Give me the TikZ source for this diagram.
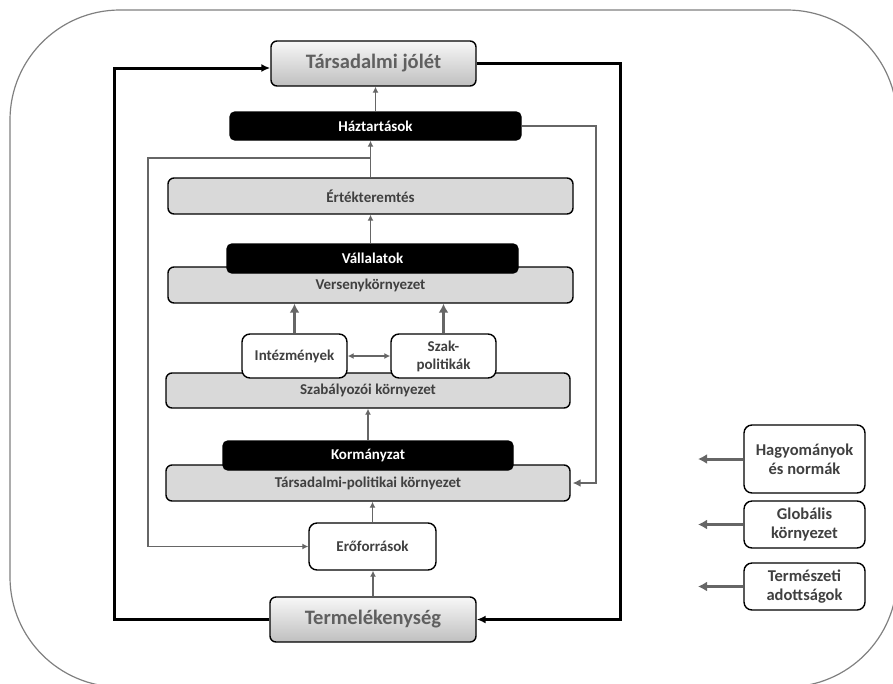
\documentclass[tikz,border=0pt]{standalone}
\usepackage{fontspec}
\setmainfont{Carlito}
\usetikzlibrary{arrows.meta}

\definecolor{txtgrey}{HTML}{404040}
\definecolor{boxgrey}{HTML}{D9D9D9}
\definecolor{arrgrey}{HTML}{666666}

\begin{document}
\begin{tikzpicture}[x=1pt,y=-1pt,
	base/.style={draw=black,line width=1.4pt,rounded corners=6pt,inner sep=0pt,align=center,
		font=\bfseries\fontsize{15}{18}\selectfont,text=txtgrey},
	greybox/.style={base,fill=boxgrey},
	blackbox/.style={base,fill=black,text=white,rounded corners=5pt},
	whitebox/.style={base,fill=white,rounded corners=8pt},
	bigbox/.style={base,top color=gray!6,bottom color=gray!50,text=gray!75!black,
		font=\bfseries\fontsize{20.5}{24}\selectfont},
	sidebox/.style={whitebox,font=\bfseries\fontsize{16.5}{19}\selectfont,minimum width=121pt},
	garr/.style={-{Latex[length=6pt,width=6pt]},line width=1.5pt,draw=arrgrey},
	thickarr/.style={-{Latex[length=9pt,width=10pt]},line width=3pt,draw=arrgrey},
	barr/.style={-{Latex[length=9pt,width=8pt]},line width=3pt,draw=black}]

		\useasboundingbox (0,0) rectangle (893,683);
		\clip (0,0) rectangle (893,683);
		\draw [gray,line width=1.2pt,rounded corners=110pt] (10,10) rectangle (897,687);

		\coordinate (fb) at (148,158);
		\coordinate (fr) at (596,126);
		\coordinate (bl) at (114,68);
		\coordinate (br) at (620,62);
		\coordinate (ext) at (698,0);

		\node [bigbox,minimum width=205pt,minimum height=45pt] (jolet) at (373.5,63.5) {Társadalmi jólét};
		\node [bigbox,minimum width=206pt,minimum height=45pt] (term) at (373,619.5) {Termelékenység};

		\node [greybox,minimum width=405pt,minimum height=36pt] (ertek) at (370.5,196) {Értékteremtés};
		\node [greybox,minimum width=405pt,minimum height=36pt] (verseny) at (370.5,285) {Versenykörnyezet};
		\node [greybox,minimum width=404pt,minimum height=35pt] (szab) at (368,390.5) {Szabályozói környezet};
		\node [greybox,minimum width=404pt,minimum height=36pt] (tarspol) at (368,483) {Társadalmi-politikai környezet};

		\node [blackbox,minimum width=291pt,minimum height=28pt] (haz) at (375.5,126) {Háztartások};
		\node [blackbox,minimum width=291pt,minimum height=29pt] (vall) at (372.5,258.5) {Vállalatok};
		\node [blackbox,minimum width=290pt,minimum height=29pt] (korm) at (368,455.5) {Kormányzat};

		\node [whitebox,minimum width=105pt,minimum height=44pt] (intez) at (294.5,356) {Intézmények};
		\node [whitebox,minimum width=105pt,minimum height=44pt] (szak) at (443.5,356) {Szak-\\politikák};
		\node [whitebox,minimum width=127pt,minimum height=47pt] (ero) at (372.5,546.5) {Erőforrások};

		\node [sidebox,minimum height=68pt] (hagy) at (804.5,459) {Hagyományok\\és normák};
		\node [sidebox,minimum height=47pt] (glob) at (804.5,524.5) {Globális\\környezet};
		\node [sidebox,minimum height=47pt] (termesz) at (804.5,586.5) {Természeti\\adottságok};

		\draw [garr] (haz.north) -- (haz.north |- jolet.south);
		\draw [garr] (ertek.north) -- (ertek.north |- haz.south);
		\draw [garr] (vall.north -| ertek.south) -- (ertek.south);
		\draw [garr] (korm.north) -- (korm.north |- szab.south);
		\draw [garr] (ero.north) -- (ero.north |- tarspol.south);
		\draw [garr] (term.north) -- (term.north |- ero.south);
		\draw [garr] (ertek.north |- fb) -- (fb) |- (ero.west);
		\draw [garr,line width=2.5pt,-{Latex[length=8pt,width=8pt]}] (haz.east) -- (fr) |- ([xshift=2pt]tarspol.east);

		\draw [thickarr] (intez.north) -- (intez.north |- verseny.south);
		\draw [thickarr] (szak.north) -- (szak.north |- verseny.south);
		\draw [garr,{Latex[length=6pt,width=6pt]}-{Latex[length=6pt,width=6pt]}] (intez) -- (szak);

		\draw [barr] (term.west) -| (bl) -- (jolet.west |- bl);
		\draw [barr] (jolet.east) -| (br) |- (term.east);

		\foreach \n in {hagy,glob,termesz}
			\draw [thickarr] (\n.west) -- (\n.west -| ext);

\end{tikzpicture}
\end{document}
